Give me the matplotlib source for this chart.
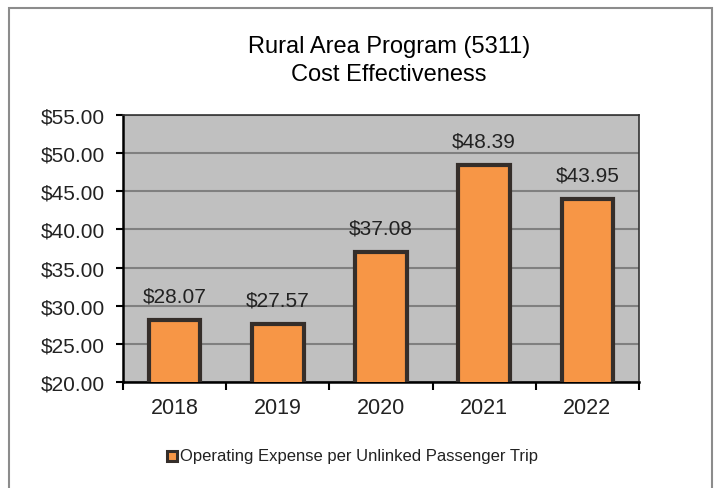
import matplotlib.pyplot as plt
from matplotlib.patches import Rectangle
from matplotlib.ticker import FuncFormatter

years = ['2018', '2019', '2020', '2021', '2022']
cost_per_trip = [28.07, 27.57, 37.08, 48.39, 43.95]
series_name = 'Operating Expense per Unlinked Passenger Trip'
title = 'Rural Area Program (5311)\nCost Effectiveness'

plt.rcParams['font.family'] = ['Liberation Sans', 'DejaVu Sans']

W, H = 718, 489
fig = plt.figure(figsize=(W / 100, H / 100), dpi=100)
fig.patch.set_facecolor('white')

# outer chart border
fig.add_artist(Rectangle((9 / W, -0.01), (712 - 9) / W, 1 - 9 / H + 0.01,
                         transform=fig.transFigure, fill=False,
                         edgecolor='#8c8c8c', linewidth=1.5))

left, right, top, bottom = 123, 639, 116, 383
ax = fig.add_axes([left / W, 1 - bottom / H, (right - left) / W, (bottom - top) / H])
ax.set_facecolor('#c0c0c0')

x = range(len(years))
ax.bar(x, cost_per_trip, width=0.5, bottom=0, color='#f79646',
       edgecolor='#352e2a', linewidth=3.0, zorder=3)
for xi, v in zip(x, cost_per_trip):
    ax.text(xi, v + 1.9, f'${v:.2f}', ha='center', va='bottom', fontsize=15, color='#222222')

ax.set_ylim(20, 55)
ax.set_xlim(-0.5, len(years) - 0.5)
ax.set_yticks(range(20, 56, 5))
ax.yaxis.set_major_formatter(FuncFormatter(lambda v, p: f'${v:.2f}'))
ax.grid(axis='y', color='#808080', linewidth=1.5, zorder=0)
ax.set_xticks([i - 0.5 for i in range(len(years) + 1)], minor=False)
ax.set_xticklabels([])
ax.set_xticks(list(x), minor=True)
ax.set_xticklabels(years, minor=True)
ax.tick_params(axis='x', which='major', length=6, width=1.5, color='black')
ax.tick_params(axis='x', which='minor', length=0, labelsize=15.5, pad=11, labelcolor='#222222')
ax.tick_params(axis='y', length=5, width=1.5, labelsize=15, pad=8, labelcolor='#222222')

for s in ['left', 'bottom']:
    ax.spines[s].set_linewidth(1.8)
for s in ['top', 'right']:
    ax.spines[s].set_linewidth(1.2)
    ax.spines[s].set_color('#333333')

fig.text(389 / W, 1 - 61 / H, title, ha='center', va='center', fontsize=17,
         linespacing=1.3, color='black')

# legend
fig.add_artist(Rectangle((167 / W, 1 - 462 / H), 10 / W, 10 / H, transform=fig.transFigure,
                         facecolor='#f79646', edgecolor='#352e2a', linewidth=2.2))
fig.text(180 / W, 1 - 457 / H, series_name, ha='left', va='center', fontsize=12, color='#222222')

fig.savefig('out.png', dpi=100)
